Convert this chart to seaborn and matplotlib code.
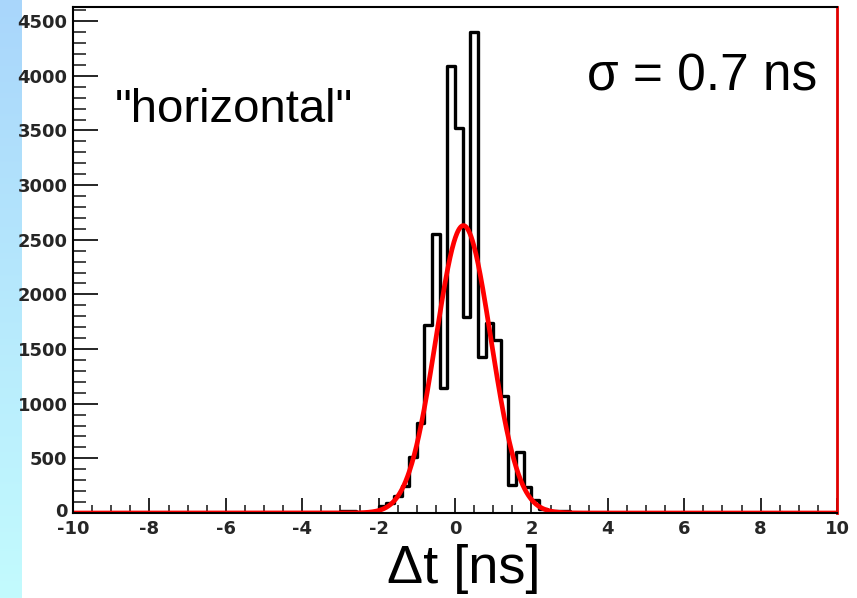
import numpy as np
import pandas as pd
import matplotlib
matplotlib.use("Agg")
import matplotlib.pyplot as plt
from matplotlib.ticker import MultipleLocator
from matplotlib.colors import LinearSegmentedColormap
from matplotlib.transforms import ScaledTranslation
import seaborn as sns

# ---- data ----
# histogram: 100 bins of 0.2 ns over [-10, 10]; only bins between -3.0 and 3.0 are non-zero
hist_low_edges = [-3.0, -2.8, -2.6, -2.4, -2.2, -2.0, -1.8, -1.6, -1.4, -1.2,
                  -1.0, -0.8, -0.6, -0.4, -0.2, 0.0, 0.2, 0.4, 0.6, 0.8,
                  1.0, 1.2, 1.4, 1.6, 1.8, 2.0, 2.2, 2.4, 2.6, 2.8]
hist_counts = [15, 15, 0, 0, 0, 60, 90, 160, 250, 510,
               820, 1720, 2550, 1140, 4090, 3520, 1790, 4400, 1430, 1740,
               1580, 1070, 255, 560, 240, 120, 40, 20, 20, 15]
# Gaussian fit parameters
fit_amp = 2630
fit_mean = 0.22
fit_sigma = 0.72

x_ticks = [-10, -8, -6, -4, -2, 0, 2, 4, 6, 8, 10]
y_ticks = [0, 500, 1000, 1500, 2000, 2500, 3000, 3500, 4000, 4500]
label_left = '"horizontal"'
label_right = "σ = 0.7 ns"
x_label = "Δt [ns]"

# ---- build ----
bin_width = 0.2
all_edges = np.round(np.linspace(-10, 10, 101), 6)
centers = all_edges[:-1] + bin_width / 2
counts_map = {round(e, 6): c for e, c in zip(hist_low_edges, hist_counts)}
weights = [counts_map.get(round(e, 6), 0) for e in all_edges[:-1]]
hist_df = pd.DataFrame({"t": centers, "n": weights})

fx = np.linspace(-10, 10, 2001)
fit_df = pd.DataFrame({"t": fx,
                       "f": fit_amp * np.exp(-0.5 * ((fx - fit_mean) / fit_sigma) ** 2)})

sns.set_style("white")
W, H = 857, 598
fig = plt.figure(figsize=(W / 100, H / 100), dpi=100)
fig.patch.set_facecolor("white")

# left gradient strip
strip = fig.add_axes([0, 0, 22 / W, 1])
grad = np.linspace(0, 1, 256).reshape(-1, 1)
cmap = LinearSegmentedColormap.from_list("s", ["#a9d6fb", "#c3fbfe"])
strip.imshow(grad, aspect="auto", cmap=cmap, extent=[0, 1, 0, 1], origin="upper")
strip.axis("off")

L, R, T, B = 73, 837, 7, 513
ax = fig.add_axes([L / W, 1 - B / H, (R - L) / W, (B - T) / H])
ax.set_facecolor("white")

sns.histplot(data=hist_df, x="t", weights="n", binwidth=bin_width, binrange=(-10, 10),
             element="step", fill=False, color="black", linewidth=2.4, ax=ax)
sns.lineplot(data=fit_df, x="t", y="f", color="#ff0000", linewidth=3.4, ax=ax)

ax.set_xlim(-10, 10)
ax.set_ylim(0, 4630)
ax.set_xticks(x_ticks)
ax.set_yticks(y_ticks)
ax.xaxis.set_minor_locator(MultipleLocator(0.5))
ax.yaxis.set_minor_locator(MultipleLocator(100))
ax.set_xticklabels([str(v) for v in x_ticks])
ax.set_yticklabels([str(v) for v in y_ticks])
for lab in ax.get_xticklabels() + ax.get_yticklabels():
    lab.set_fontweight("bold")
    lab.set_family("DejaVu Sans")
    lab.set_fontsize(13)
ax.tick_params(axis="y", which="major", direction="in", length=18, width=1.4, pad=4, left=True)
ax.tick_params(axis="y", which="minor", direction="in", length=9, width=1.2, left=True)
ax.tick_params(axis="x", which="major", direction="in", length=11, width=1.4, pad=5, bottom=True)
ax.tick_params(axis="x", which="minor", direction="in", length=6, width=1.2, bottom=True)
ax.set_xlabel("")
ax.set_ylabel("")

# lift the "0" y label slightly so it does not touch the "-10" x label
zero_lab = ax.get_yticklabels()[0]
zero_lab.set_transform(zero_lab.get_transform() + ScaledTranslation(0, 3 / 100, fig.dpi_scale_trans))

for s in ["left", "bottom", "top"]:
    ax.spines[s].set_color("black")
    ax.spines[s].set_linewidth(1.5)
ax.spines["right"].set_color("#e00000")
ax.spines["right"].set_linewidth(2.0)

ax.text(-8.9, 3577, label_left, fontsize=34, family="Liberation Sans",
        ha="left", va="baseline", color="black")
ax.text(3.46, 3870, label_right, fontsize=37, family="Liberation Sans",
        ha="left", va="baseline", color="black")
fig.text(464 / W, 1 - 583 / H, x_label, fontsize=39, family="Liberation Sans",
         ha="center", va="baseline", color="black")

fig.savefig("out.png", dpi=100)
